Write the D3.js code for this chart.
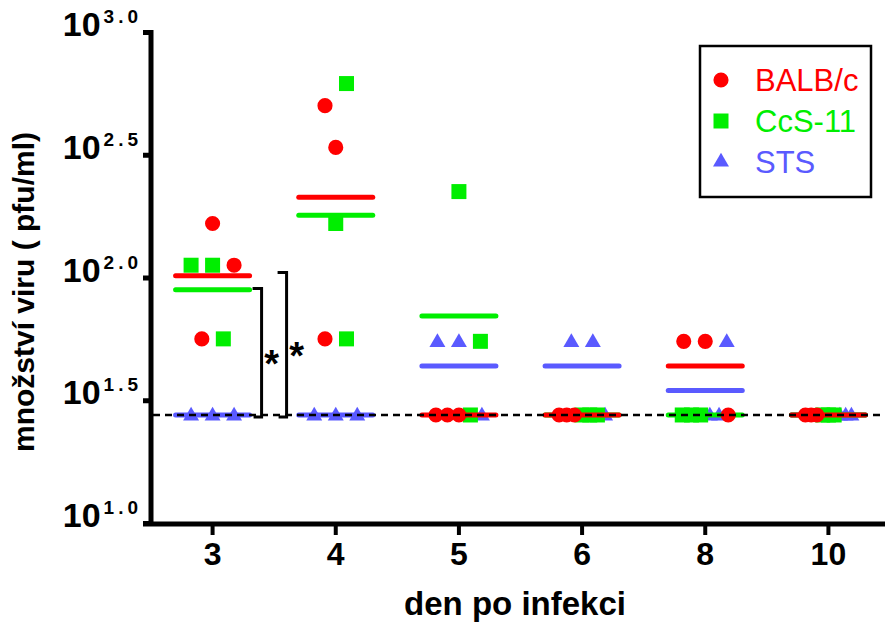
<!DOCTYPE html>
<html lang="cs">
<head>
<meta charset="utf-8">
<script src="https://d3js.org/d3.v7.min.js"></script>
<style>
  body { margin: 0; background: #fff; }
  text { font-family: "Liberation Sans", Arial, sans-serif; }
</style>
</head>
<body>
<script>
// days after infection (categories)
const days = ["3", "4", "5", "6", "8", "10"];
// log10 of virus titre (pfu/ml), three animals per day
const balbc = [[2.22, 2.05, 1.75], [2.70, 2.53, 1.75], [1.44, 1.44, 1.44], [1.44, 1.44, 1.44], [1.74, 1.74, 1.44], [1.44, 1.44, 1.44]];
const ccs11 = [[2.05, 2.05, 1.75], [2.79, 2.22, 1.75], [2.35, 1.74, 1.44], [1.44, 1.44, 1.44], [1.44, 1.44, 1.44], [1.44, 1.44, 1.44]];
const sts   = [[1.44, 1.44, 1.44], [1.44, 1.44, 1.44], [1.74, 1.74, 1.44], [1.74, 1.74, 1.44], [1.74, 1.44, 1.44], [1.44, 1.44, 1.44]];
const yTicks = [1.0, 1.5, 2.0, 2.5, 3.0];
const detectionLimit = 1.44;
// significance brackets on day 3 (top level, bottom level)
const sigBrackets = [[1.955, 1.44], [2.02, 1.44]];

const series = [
  {name: "BALB/c", values: balbc, color: "#ff0000", shape: d3.symbolCircle, size: 180},
  {name: "CcS-11", values: ccs11, color: "#00ee00", shape: d3.symbolSquare, size: 225},
  {name: "STS", values: sts, color: "#5a5aff", shape: d3.symbolTriangle, size: 110}
];

const W = 885, H = 624;
const svg = d3.select("body").append("svg")
  .attr("width", W).attr("height", H);

const x = d3.scaleBand().domain(days).range([151, 890]).padding(0);
const y = d3.scaleLog().domain([10, 1000]).range([523, 32]);
const yv = v => y(Math.pow(10, v));
const cx = d => x(d) + x.bandwidth() / 2;

// y axis
const gy = svg.append("g").attr("transform", "translate(151,0)")
  .call(d3.axisLeft(y).tickValues(yTicks.map(v => Math.pow(10, v)))
    .tickSize(8).tickSizeOuter(0).tickFormat(""));
gy.select(".domain").attr("stroke-width", 5).attr("d", "M0,30V526");
gy.selectAll(".tick line").attr("stroke-width", 5);
gy.selectAll(".tick text").each(function(d) {
  const t = d3.select(this).attr("x", -9).attr("dy", "0.36em")
    .attr("text-anchor", "end").attr("fill", "#000");
  t.append("tspan").attr("font-size", 34).attr("font-weight", "bold").text("10");
  t.append("tspan").attr("font-size", 19).attr("font-weight", "bold")
    .attr("dx", 3).attr("dy", -13).attr("letter-spacing", 4)
    .text(Math.log10(d).toFixed(1));
});

// x axis
const gx = svg.append("g").attr("transform", "translate(0,524)")
  .call(d3.axisBottom(x).tickSize(11).tickSizeOuter(0));
gx.select(".domain").attr("stroke-width", 5).attr("d", "M143,0H885");
gx.selectAll(".tick line").attr("stroke-width", 4);
gx.selectAll(".tick text").attr("font-size", 32).attr("font-weight", "bold")
  .attr("fill", "#000").attr("y", 18);

// axis titles
svg.append("text").attr("x", 515).attr("y", 615).attr("text-anchor", "middle")
  .attr("font-size", 33).attr("font-weight", "bold").text("den po infekci");
svg.append("text").attr("transform", "translate(34,292) rotate(-90)")
  .attr("text-anchor", "middle").attr("font-size", 30).attr("font-weight", "bold")
  .text("množství viru ( pfu/ml)");

// lay out points side by side when they share a level
const points = [];
days.forEach((day, di) => {
  const pts = [];
  series.forEach((s, si) => s.values[di].forEach(v => pts.push({si, v, py: yv(v)})));
  pts.sort((a, b) => a.py - b.py);
  const rows = [];
  pts.forEach(p => {
    const row = rows[rows.length - 1];
    if (row && p.py - row[0].py < 25) row.push(p); else rows.push([p]);
  });
  rows.forEach(row => {
    const cnt = d3.rollup(row, r => r.length, p => p.si);
    row.sort((a, b) => (cnt.get(b.si) - cnt.get(a.si)) || (a.si - b.si));
    const n = row.length;
    const step = n > 1 ? Math.min(21.5, 46 / (n - 1)) : 0;
    row.forEach((p, i) => {
      p.px = cx(day) + (i - (n - 1) / 2) * step;
      p.day = day;
      points.push(p);
    });
  });
});

// draw series: STS first, BALB/c last (on top)
[2, 1, 0].forEach(si => {
  const s = series[si];
  const g = svg.append("g");
  g.selectAll("path.pt").data(points.filter(p => p.si === si)).join("path")
    .attr("class", "pt")
    .attr("d", d3.symbol().type(s.shape).size(s.size))
    .attr("transform", p => `translate(${p.px},${p.py + (s.shape === d3.symbolTriangle ? 1 : 0)})`)
    .attr("fill", s.color);
  g.selectAll("line.mean").data(days).join("line")
    .attr("class", "mean")
    .attr("x1", d => cx(d) - 37).attr("x2", d => cx(d) + 37)
    .attr("y1", (d, i) => yv(d3.mean(s.values[i])))
    .attr("y2", (d, i) => yv(d3.mean(s.values[i])))
    .attr("stroke", s.color).attr("stroke-width", 5).attr("stroke-linecap", "round");
});

// detection limit
svg.append("line").attr("x1", 153).attr("x2", 885)
  .attr("y1", yv(detectionLimit)).attr("y2", yv(detectionLimit))
  .attr("stroke", "#000").attr("stroke-width", 2.5).attr("stroke-dasharray", "7,5");

// significance brackets
sigBrackets.forEach(([top, bot], i) => {
  const bx = cx("3") + 49 + i * 25;
  const y1 = yv(top), y2 = yv(bot) + 2;
  svg.append("path")
    .attr("d", `M${bx - 9},${y1}H${bx}V${y2}H${bx - 8}`)
    .attr("fill", "none").attr("stroke", "#000").attr("stroke-width", 3);
  svg.append("text").attr("x", bx + 10).attr("y", (y1 + y2) / 2 + 24)
    .attr("text-anchor", "middle").attr("font-size", 38).attr("font-weight", "bold")
    .text("*");
});

// legend
const lg = svg.append("g");
lg.append("rect").attr("x", 700).attr("y", 46).attr("width", 171).attr("height", 151)
  .attr("fill", "#fff").attr("stroke", "#000").attr("stroke-width", 2.5);
series.forEach((s, i) => {
  const ly = 80 + i * 41;
  lg.append("path").attr("d", d3.symbol().type(s.shape).size(s.size))
    .attr("transform", `translate(721,${ly})`).attr("fill", s.color);
  lg.append("text").attr("x", 755).attr("y", ly + 11).attr("font-size", 31)
    .attr("fill", s.color).text(s.name);
});
</script>
</body>
</html>
